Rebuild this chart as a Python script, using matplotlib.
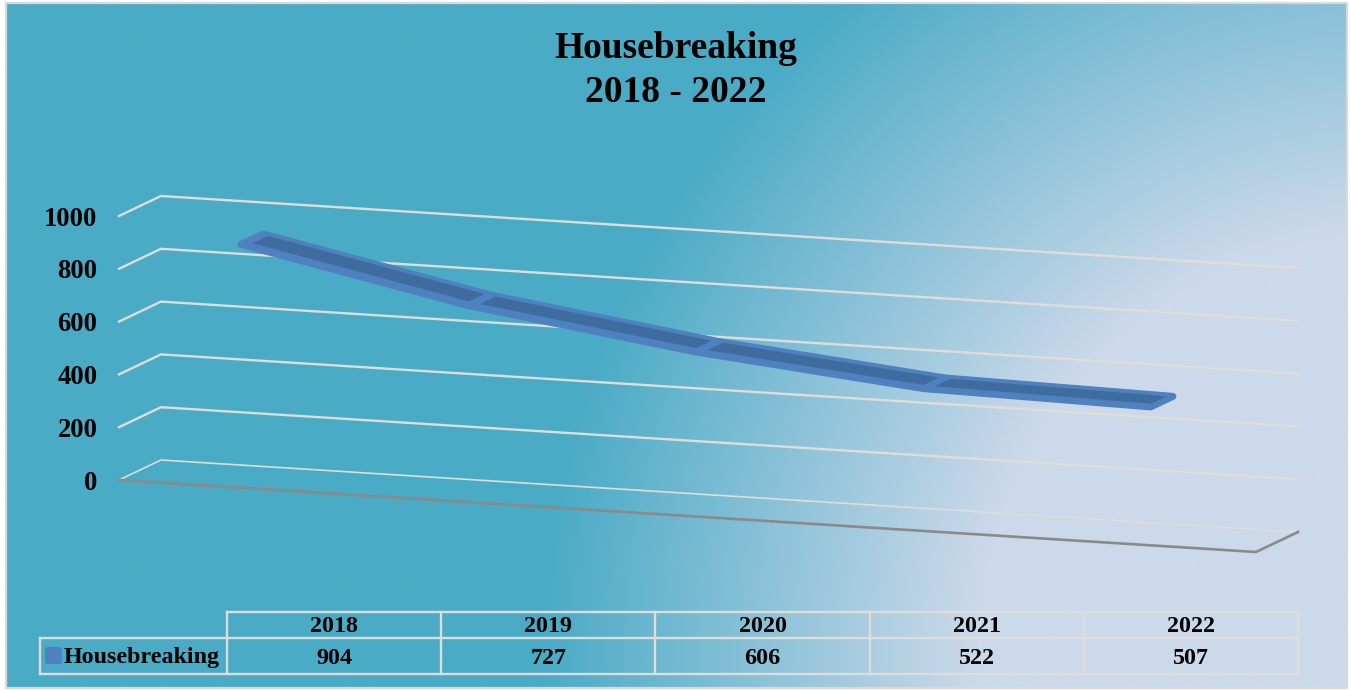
import matplotlib
matplotlib.use('Agg')
import matplotlib.pyplot as plt
from matplotlib.colors import LinearSegmentedColormap
from matplotlib.patches import Polygon, FancyBboxPatch
import numpy as np

years = ['2018', '2019', '2020', '2021', '2022']
values = [904, 727, 606, 522, 507]
y_ticks = [0, 200, 400, 600, 800, 1000]
series_name = 'Housebreaking'
title_lines = ['Housebreaking', '2018 - 2022']

W, H = 1351, 690
FONT = 'Liberation Serif'
GRID = '#DEDDDA'


def pos(u, v, d):
    # u along the categories, v the value, d depth into the chart (all to pixels)
    x = 119 + u * 1137 + d * 42
    y = 480 - np.asarray(v) * 0.264 + u * 72 - d * 20
    return x, y


def ribbon(u, v, d0, d1):
    x0, y0 = pos(u, v, d0)
    x1, y1 = pos(u, v, d1)
    return np.column_stack([np.r_[x0, x1[::-1]], np.r_[y0, y1[::-1]]])


fig = plt.figure(figsize=(W / 100, H / 100), dpi=100, facecolor='white')
ax = fig.add_axes([0, 0, 1, 1])
ax.set_xlim(0, W)
ax.set_ylim(H, 0)
ax.axis('off')

# background
yy, xx = np.mgrid[0:H, 0:W]
r = np.hypot(xx - 1400, yy - 650)
t = np.clip((860 - r) / 440, 0, 1)
cmap = LinearSegmentedColormap.from_list('bg', ['#4AABC6', '#CCD9EA'])
ax.imshow(t, cmap=cmap, extent=[6, 1347, 688, 3], aspect='auto', zorder=0, vmin=0, vmax=1)
ax.set_xlim(0, W)
ax.set_ylim(H, 0)
ax.plot([6, 1347, 1347, 6, 6], [3, 3, 688, 688, 3], color='#D9D9D9', lw=1.6, zorder=1)

# gridlines
for v in y_ticks:
    xa, ya = pos(0, v, 0)
    xb, yb = pos(0, v, 1)
    xc, yc = pos(1, v, 1)
    ax.plot([xa, xb, xc], [ya, yb, yc], color=GRID, lw=1.2 if v == 0 else 1.7, zorder=2,
            solid_joinstyle='miter')
    ax.text(97.5, ya + 3, str(v), ha='right', va='center', family=FONT, weight='bold',
            fontsize=19.2, color='black', zorder=5)

# floor edge
xa, ya = pos(0, 0, 0)
xb, yb = pos(1, 0, 0)
xc, yc = pos(1, 0, 1)
ax.plot([xa, xb, xc], [ya, yb, yc], color='#8A8A8A', lw=1.9, zorder=3)

# line as a flat ribbon
u = (np.arange(len(values)) + 0.5) / len(values)
ax.add_patch(Polygon(ribbon(u, values, 0.2, 0.73), closed=True, fc='#4F80BF', ec='#4F80BF',
                     lw=5, joinstyle='round', zorder=4))
for i in range(len(values) - 1):
    us = np.linspace(u[i] + 0.005, u[i + 1] - 0.005, 2)
    vs = np.interp(us, u, values)
    ax.add_patch(Polygon(ribbon(us, vs, 0.34, 0.71), closed=True, fc='#3F6C9E', ec='none', zorder=5))

# title
ax.text(676, 49, title_lines[0], ha='center', va='center', family=FONT, weight='bold',
        fontsize=27, color='black', zorder=5)
ax.text(676, 92, title_lines[1], ha='center', va='center', family=FONT, weight='bold',
        fontsize=27, color='black', zorder=5)

# data table
cols = np.linspace(227, 1298, len(years) + 1)
tbl = dict(color=GRID, lw=1.7, zorder=3)
ax.plot([cols[0], cols[-1]], [612, 612], **tbl)
ax.plot([40, cols[-1]], [638, 638], **tbl)
ax.plot([40, cols[-1]], [674, 674], **tbl)
ax.plot([40, 40], [638, 674], **tbl)
for c in cols:
    ax.plot([c, c], [612, 674], **tbl)
for i, (yr, val) in enumerate(zip(years, values)):
    cx = (cols[i] + cols[i + 1]) / 2
    ax.text(cx, 627, yr, ha='center', va='center', family=FONT, weight='bold', fontsize=17.3, zorder=5)
    ax.text(cx, 658, str(val), ha='center', va='center', family=FONT, weight='bold', fontsize=17.3, zorder=5)
ax.add_patch(FancyBboxPatch((48, 650), 11, 11, boxstyle='round,pad=3', fc='#4F80BF', ec='none', zorder=4))
ax.text(64, 657, series_name, ha='left', va='center', family=FONT, weight='bold', fontsize=17.3, zorder=5)

fig.savefig('out.png', dpi=100)
